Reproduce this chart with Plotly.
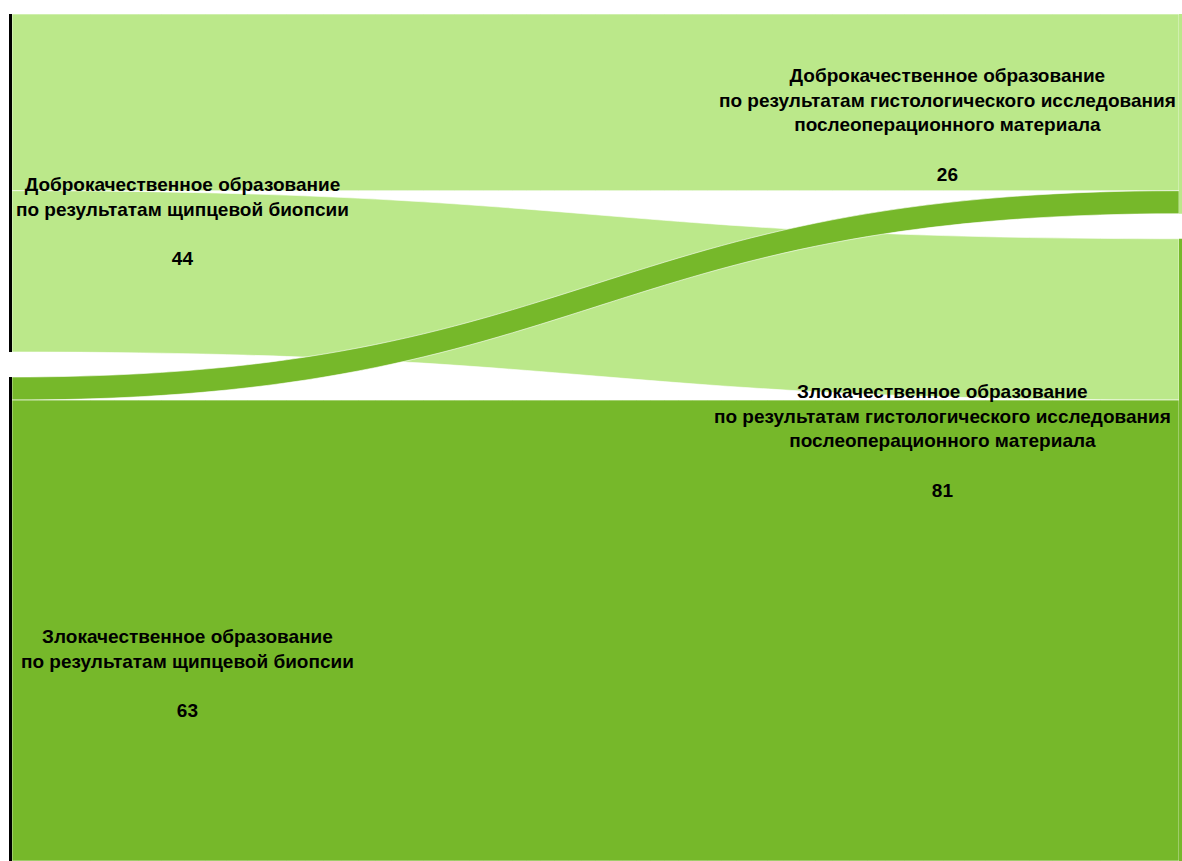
import plotly.graph_objects as go

node_labels = [
    "Доброкачественное образование<br>по результатам щипцевой биопсии",
    "Злокачественное образование<br>по результатам щипцевой биопсии",
    "Доброкачественное образование<br>по результатам гистологического исследования<br>послеоперационного материала",
    "Злокачественное образование<br>по результатам гистологического исследования<br>послеоперационного материала",
]
node_totals = [44, 63, 26, 81]
sources = [0, 0, 1, 1]
targets = [2, 3, 2, 3]
values = [23, 21, 3, 60]

LIGHT = "#bbe88a"
DARK = "#76b82a"
link_colors = [LIGHT if s == 0 else DARK for s in sources]

fig = go.Figure(go.Sankey(
    arrangement="snap",
    node=dict(
        label=["", "", "", ""],
        pad=25,
        thickness=3,
        color=["black", "black", LIGHT, DARK],
        line=dict(width=0),
    ),
    link=dict(
        source=sources,
        target=targets,
        value=values,
        color=link_colors,
        line=dict(color="white", width=0.6),
    ),
))

# label positions (paper coords)
label_pos = [(0.1483, 0.7556), (0.1526, 0.2208), (0.8005, 0.869), (0.7954, 0.4959)]
for lbl, tot, (x, y) in zip(node_labels, node_totals, label_pos):
    fig.add_annotation(
        x=x, y=y, xref="paper", yref="paper",
        xanchor="center", yanchor="middle",
        text=f"{lbl}<br><br>{tot}",
        showarrow=False,
        font=dict(family="Liberation Sans, Arial, sans-serif", size=19, color="black", weight="bold"),
        align="center",
    )

fig.update_layout(
    width=1182, height=861,
    margin=dict(l=9, r=0, t=14, b=0),
    paper_bgcolor="white",
    plot_bgcolor="white",
)

fig.write_html("out.html")
